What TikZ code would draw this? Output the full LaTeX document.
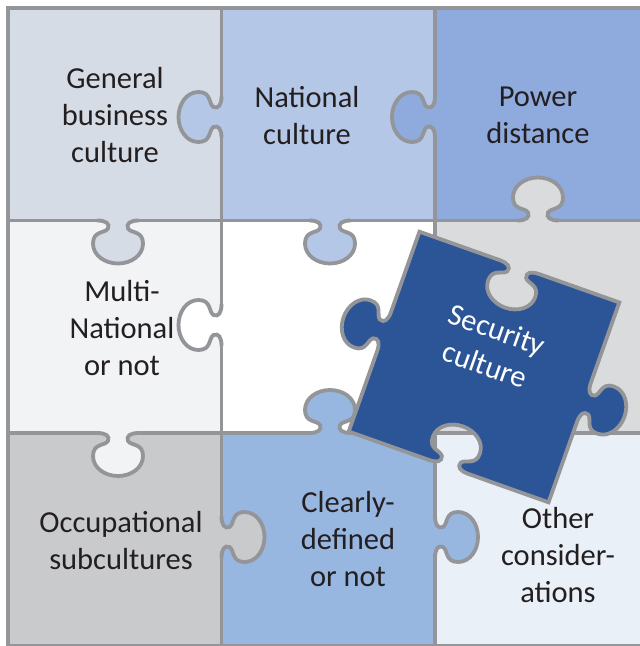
\documentclass[tikz,border=0pt]{standalone}
\usepackage{fontspec}
\setmainfont{Carlito}

\definecolor{generalbg}{HTML}{D6DCE5}
\definecolor{nationalbg}{HTML}{B4C7E7}
\definecolor{powerbg}{HTML}{8FAADC}
\definecolor{multibg}{HTML}{F2F3F5}
\definecolor{slotbg}{HTML}{DADBDD}
\definecolor{occupbg}{HTML}{C9CACC}
\definecolor{clearbg}{HTML}{97B7E1}
\definecolor{otherbg}{HTML}{EAF0F8}
\definecolor{securitybg}{HTML}{2B5597}
\definecolor{edgegray}{HTML}{939598}
\definecolor{labeltext}{HTML}{231F20}

\tikzset{
  edge line/.style={draw=edgegray, line width=3.8pt},
  piece label/.style={align=center, inner sep=0pt, text=labeltext,
    font=\fontsize{30.5}{37}\selectfont},
}

% one knob of a piece, running along the x axis and sticking out to +y
\newcommand{\tabcurve}{%
  .. controls (-12,0) and (-8,3) .. (-10,8)
  .. controls (-13,13) and (-25,10) .. (-25,23)
  .. controls (-25,35) and (-13,43) .. (0,43)
  .. controls (13,43) and (25,35) .. (25,23)
  .. controls (25,10) and (13,13) .. (10,8)
  .. controls (8,3) and (12,0) .. (21,0)}

% knob on the grid: x, y, turn, colour of its piece
\newcommand{\puzzletab}[4]{%
  \begin{scope}[shift={(#1,#2)}, rotate=#3]
    \fill[#4] (-21,-5) -- (-21,0) \tabcurve -- (21,-5) -- cycle;
    \draw[edge line] (-21,0) \tabcurve;
  \end{scope}}

\begin{document}
\begin{tikzpicture}[x=1pt, y=-1pt]
  \clip (0,0) rectangle (640,646);
  \fill[white] (0,0) rectangle (640,646);

  % Cells of the 3x3 puzzle
  \foreach \col/\row/\shade in {0/0/generalbg, 1/0/nationalbg, 2/0/powerbg,
      0/1/multibg, 1/1/white, 2/1/slotbg,
      0/2/occupbg, 1/2/clearbg, 2/2/otherbg} {
    \fill[\shade] ({8+213.5*\col},{8+212.5*\row}) rectangle +(213.5,212.5);
  }

  % Grid lines
  \draw[edge line] (8,8) rectangle (648.5,645.5);
  \foreach \gx in {221.5,435} {\draw[edge line] (\gx,8) -- (\gx,645.5);}
  \foreach \gy in {220.5,433} {\draw[edge line] (8,\gy) -- (648.5,\gy);}

  % Knobs: x/y/turn/colour
  \foreach \tx/\ty/\turn/\shade in {221.5/117/-90/nationalbg, 435/117/-90/powerbg,
      118/220.5/0/generalbg, 330/220.5/0/nationalbg, 538/220.5/180/slotbg,
      221.5/325/-90/white, 118/433/0/multibg, 330/433/180/clearbg,
      221.5/537/90/occupbg, 435/537/90/clearbg} {
    \puzzletab{\tx}{\ty}{\turn}{\shade}
  }

  % Security culture piece, lifted out and turned
  \begin{scope}[shift={(484,367)}, rotate=-19.5]
    \filldraw[edge line, fill=securitybg] (-106,-106)
      {[shift={(0,-106)}] -- (-21,0) \tabcurve}
      -- (106,-106)
      {[shift={(106,0)}, rotate=90, xscale=-1] -- (-21,0) \tabcurve}
      -- (106,106)
      {[shift={(0,106)}, rotate=180] -- (-21,0) \tabcurve}
      -- (-106,106)
      {[shift={(-106,0)}, rotate=-90, xscale=-1] -- (-21,0) \tabcurve}
      -- cycle;
    \node[piece label, text=white, rotate=-19.5] (security) at (0,-21) {Security\\culture};
  \end{scope}

  % Labels
  \node[piece label] (general) at (115,115) {General\\business\\culture};
  \node[piece label] (national) at (307,115.5) {National\\culture};
  \node[piece label] (power) at (538,115) {Power\\distance};
  \node[piece label] (multi) at (122,328) {Multi-\\National\\or not};
  \node[piece label] (occupational) at (121,540.5) {Occupational\\subcultures};
  \node[piece label] (clearly) at (348,539) {Clearly-\\defined\\or not};
  \node[piece label] (other) at (558,555) {Other\\consider-\\ations};
\end{tikzpicture}
\end{document}
